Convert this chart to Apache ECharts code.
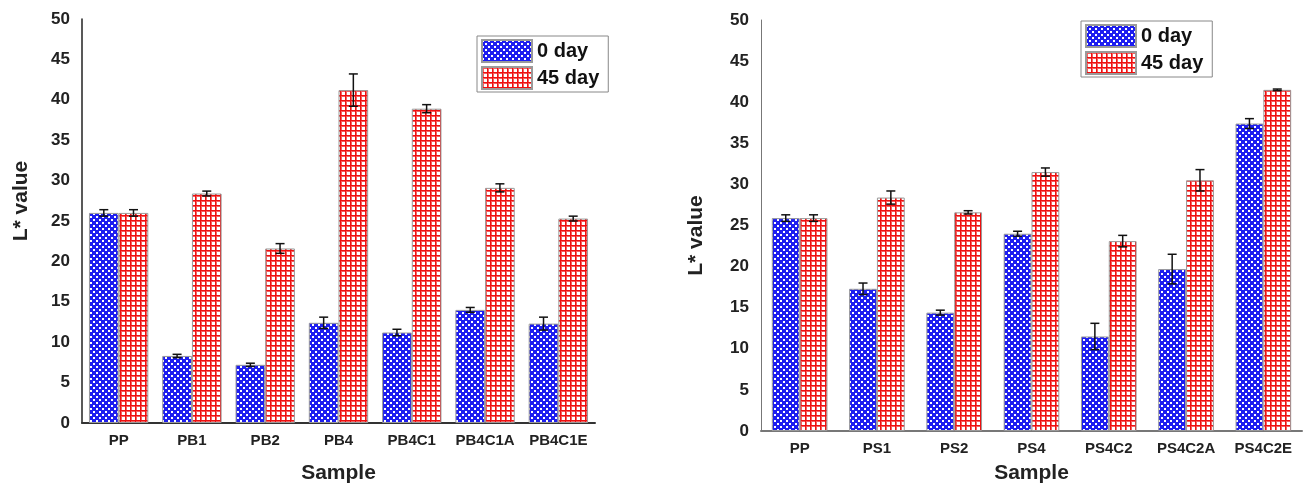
<!DOCTYPE html>
<html>
<head>
<meta charset="utf-8">
<script src="https://cdn.jsdelivr.net/npm/echarts@6/dist/echarts.min.js"></script>
<style>
  html, body { margin: 0; padding: 0; background: #fff; }
  #main { width: 1306px; height: 492px; }
</style>
</head>
<body>
<div id="main"></div>
<script>
// left panel
var catsB = ['PP', 'PB1', 'PB2', 'PB4', 'PB4C1', 'PB4C1A', 'PB4C1E'];
var dayB0 = [26.0, 8.3, 7.2, 12.4, 11.2, 14.0, 12.3];
var dayB45 = [26.0, 28.4, 21.6, 41.2, 38.9, 29.1, 25.3];
var errB0 = [0.4, 0.2, 0.2, 0.7, 0.4, 0.3, 0.8];
var errB45 = [0.4, 0.3, 0.6, 2.0, 0.5, 0.5, 0.3];
// right panel
var catsS = ['PP', 'PS1', 'PS2', 'PS4', 'PS4C2', 'PS4C2A', 'PS4C2E'];
var dayS0 = [25.9, 17.3, 14.4, 24.0, 11.5, 19.7, 37.4];
var dayS45 = [25.9, 28.4, 26.6, 31.5, 23.1, 30.5, 41.5];
var errS0 = [0.4, 0.7, 0.3, 0.3, 1.6, 1.8, 0.6];
var errS45 = [0.4, 0.8, 0.2, 0.5, 0.7, 1.3, 0.1];
var yTicks = [0, 5, 10, 15, 20, 25, 30, 35, 40, 45, 50];

function tile(draw, w, h){
    var c = document.createElement('canvas');
    c.width = w; c.height = h;
    draw(c.getContext('2d'));
    return c;
}
// blue with white dots in a checker layout
var bluePat = tile(function(ctx){
    ctx.fillStyle = '#1e1ef0';
    ctx.fillRect(0, 0, 6, 6);
    ctx.fillStyle = '#ffffff';
    ctx.fillRect(0, 0, 2, 2);
    ctx.fillRect(3, 3, 2, 2);
}, 6, 6);
// white with a red grid
var redPat = tile(function(ctx){
    ctx.fillStyle = '#ffffff';
    ctx.fillRect(0, 0, 5, 5);
    ctx.fillStyle = '#f46060';
    ctx.fillRect(0, 1, 5, 1);
    ctx.fillRect(1, 0, 1, 5);
    ctx.fillStyle = '#ee1010';
    ctx.fillRect(0, 0, 5, 1);
    ctx.fillRect(0, 0, 1, 5);
}, 5, 5);
var blueFill = {image: bluePat, repeat: 'repeat'};
var redFill = {image: redPat, repeat: 'repeat'};

var gapB = 0.19, gapS = 0.28;
var font = 'Liberation Sans';

function errData(vals, errs){
    return vals.map(function(v, i){ return [i, v - errs[i], v + errs[i]]; });
}
function errSeries(idx, vals, errs, side, gap){
    return {
        type: 'custom',
        xAxisIndex: idx, yAxisIndex: idx,
        z: 5,
        silent: true,
        data: errData(vals, errs),
        renderItem: function(params, api){
            var i = api.value(0);
            var lo = api.coord([i, api.value(1)]);
            var hi = api.coord([i, api.value(2)]);
            var band = api.size([1, 0])[0];
            var bw = band * (1 - gap) / 2;
            var x = lo[0] + side * bw / 2;
            var st = {stroke: '#111', lineWidth: 1.5};
            return {type: 'group', children: [
                {type: 'line', shape: {x1: x, y1: lo[1], x2: x, y2: hi[1]}, style: st},
                {type: 'line', shape: {x1: x - 4.5, y1: lo[1], x2: x + 4.5, y2: lo[1]}, style: st},
                {type: 'line', shape: {x1: x - 4.5, y1: hi[1], x2: x + 4.5, y2: hi[1]}, style: st}
            ]};
        }
    };
}
function barSeries(idx, name, vals, fill, gap){
    return {
        name: name, type: 'bar',
        xAxisIndex: idx, yAxisIndex: idx,
        data: vals,
        barGap: '0%', barCategoryGap: (gap * 100) + '%',
        itemStyle: {color: fill, borderColor: '#9a9a9a', borderWidth: 1}
    };
}
function xAx(idx, cats, col, gap){
    return {
        type: 'category', gridIndex: idx, data: cats,
        name: 'Sample', nameLocation: 'middle', nameGap: gap,
        nameTextStyle: {fontSize: 21, fontWeight: 'bold', color: '#222', fontFamily: font},
        axisLine: {lineStyle: {color: col, width: 2}},
        axisTick: {show: false},
        axisLabel: {fontSize: 15, fontWeight: 'bold', color: '#222', margin: 10, interval: 0, fontFamily: font}
    };
}
function yAx(idx, col, w, gap, pad){
    return {
        type: 'value', gridIndex: idx, min: 0, max: 50, interval: 5,
        name: 'L* value', nameLocation: 'middle', nameGap: gap,
        nameTextStyle: {fontSize: 21, fontWeight: 'bold', color: '#222', fontFamily: font, padding: pad},
        axisLine: {show: true, lineStyle: {color: col, width: w}},
        axisTick: {show: false},
        splitLine: {show: false},
        axisLabel: {fontSize: 17, fontWeight: 'bold', color: '#222', margin: 12, fontFamily: font,
            formatter: function(v){ return yTicks.indexOf(v) >= 0 ? String(v) : ''; }}
    };
}
function leg(left, top){
    return {
        data: ['0 day', '45 day'], orient: 'vertical', left: left, top: top,
        icon: 'rect',
        padding: [3, 9, 2, 4], itemGap: 3, itemWidth: 50, itemHeight: 22,
        borderColor: '#888', borderWidth: 1, selectedMode: false,
        textStyle: {fontSize: 20, fontWeight: 'bold', color: '#111', fontFamily: font}
    };
}

var myChart = echarts.init(document.getElementById('main'));
var option = {
    animation: false,
    backgroundColor: '#fff',
    grid: [
        {left: 82, top: 19, right: 711, bottom: 69},
        {left: 761, top: 20, right: 4, bottom: 61}
    ],
    legend: [leg(477, 36), leg(1081, 21)],
    xAxis: [xAx(0, catsB, '#333', 40), xAx(1, catsS, '#777', 32)],
    yAxis: [yAx(0, '#222', 1.5, 50, [0, 0, 0, 40]), yAx(1, '#777', 1, 54, [0, 20, 0, 0])],
    series: [
        barSeries(0, '0 day', dayB0, blueFill, gapB),
        barSeries(0, '45 day', dayB45, redFill, gapB),
        barSeries(1, '0 day', dayS0, blueFill, gapS),
        barSeries(1, '45 day', dayS45, redFill, gapS),
        errSeries(0, dayB0, errB0, -1, gapB),
        errSeries(0, dayB45, errB45, 1, gapB),
        errSeries(1, dayS0, errS0, -1, gapS),
        errSeries(1, dayS45, errS45, 1, gapS)
    ]
};
myChart.setOption(option);
</script>
</body>
</html>
